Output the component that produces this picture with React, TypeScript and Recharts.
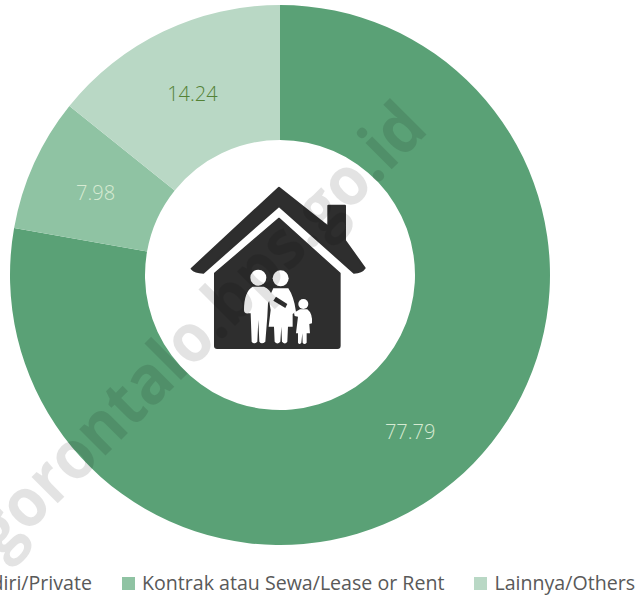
import React from "react";
import { PieChart, Pie, Legend } from "recharts";

const categories = ["Milik Sendiri/Private", "Kontrak atau Sewa/Lease or Rent", "Lainnya/Others"];
const shares = [77.79, 7.98, 14.24];
const sliceColors = ["#5aa176", "#8fc3a3", "#b9d8c5"];
const labelColors = ["#d6ead2", "#d6ead2", "#548235"];
const FONT = "'Open Sans', sans-serif";

const table = categories.map((name, i) => ({ name, value: shares[i], fill: sliceColors[i], labelColor: labelColors[i] }));

const RAD = Math.PI / 180;
function SliceLabel(p: any) {
  const r = (p.innerRadius + p.outerRadius) / 2;
  const x = p.cx + r * Math.cos(-p.midAngle * RAD);
  const y = p.cy + r * Math.sin(-p.midAngle * RAD) + 1;
  return (
    <text x={x} y={y} textAnchor="middle" dominantBaseline="central" fontSize={20} fontWeight={300} fontFamily={FONT} fill={p.payload.labelColor}>
      {p.value.toFixed(2)}
    </text>
  );
}

function LegendRow({ payload }: any) {
  return (
    <div style={{ display: "flex", whiteSpace: "nowrap", fontFamily: FONT, fontSize: 19.6, lineHeight: "26px", color: "#595959", justifyContent: "flex-end" }}>
      {(payload || []).map((e: any, i: number) => (
        <span key={i} style={{ display: "inline-flex", alignItems: "center", marginLeft: 30 }}>
          <span style={{ width: 13, height: 13, background: e.color, marginRight: 7, display: "inline-block" }} />
          {e.value}
        </span>
      ))}
    </div>
  );
}

function Overlay() {
  return (
    <svg width={641} height={596} style={{ position: "absolute", left: 0, top: 0, pointerEvents: "none" }}>
      <g transform="translate(170,170) scale(0.3333)">
        <path fill="#2e2e2e" stroke="#2e2e2e" strokeWidth={6} strokeLinejoin="round"
          d="M327 53 L475 170 L475 107 L525 107 L525 212 L584 294 Q575 308 552 308 L327 108 L100 308 Q75 308 65 296 Z" />
        <path fill="#2e2e2e" stroke="#2e2e2e" strokeWidth={4} strokeLinejoin="round"
          d="M327 145 L510 310 L510 527 Q510 535 502 535 L142 535 Q134 535 134 527 L134 310 Z" />
        <g fill="#ffffff">
          <circle cx={265} cy={323} r={24} />
          <circle cx={332} cy={325} r={24} />
          <circle cx={400} cy={402} r={15} />
          <path d="M222 420 Q222 365 248 350 L282 350 Q300 358 306 375 L294 400 L292 440 L286 515 Q275 525 268 515 L265 450 L262 515 Q252 525 245 515 L242 430 L236 430 Q222 432 222 420 Z" />
          <path d="M310 355 L355 355 Q372 380 378 425 L368 432 L368 470 L354 470 L352 515 Q345 526 336 515 L334 470 L331 515 Q322 526 314 515 L312 470 L296 470 L302 420 L296 385 Z" />
          <path d="M372 428 L390 418 L412 418 Q428 430 426 460 L418 462 L420 490 L410 490 L410 518 Q403 526 398 518 L397 490 L394 518 Q388 526 384 518 L384 490 L378 490 L384 440 L374 438 Z" />
        </g>
        <path fill="#2e2e2e" d="M318 380 L352 402 L346 414 L310 392 Z" />
      </g>
      <text x={430} y={131} textAnchor="end" textLength={606} lengthAdjust="spacingAndGlyphs" transform="rotate(-45 430 131)" fontFamily={FONT} fontWeight={700} fontSize={68} fill="#000000" fillOpacity={0.11}>
        gorontalo.bps.go.id
      </text>
    </svg>
  );
}

export default function App() {
  return (
    <div style={{ position: "absolute", left: 0, top: 0, width: 641, height: 596, overflow: "hidden", background: "#fff" }}>
      <PieChart width={641} height={596} margin={{ top: 0, right: 0, bottom: 0, left: 0 }}>
        <Pie
          data={table}
          dataKey="value"
          nameKey="name"
          cx={280}
          cy={275}
          innerRadius={135}
          outerRadius={270}
          startAngle={90}
          endAngle={-270}
          stroke="none"
          label={SliceLabel}
          labelLine={false}
          isAnimationActive={false}
        />
        <Legend itemSorter={null} content={LegendRow} wrapperStyle={{ position: "absolute", width: "auto", left: "auto", right: 6, bottom: 0, top: 570 }} />
      </PieChart>
      <Overlay />
    </div>
  );
}
